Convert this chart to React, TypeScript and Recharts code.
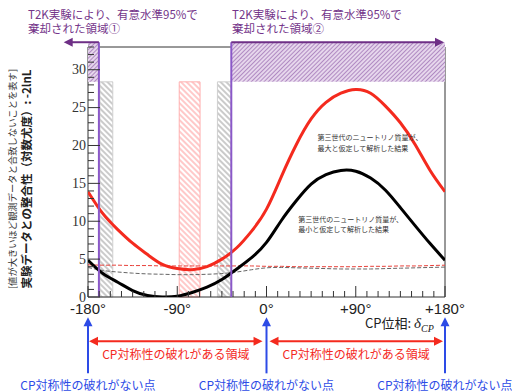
import {
  ComposedChart,
  Line,
  XAxis,
  YAxis,
  ReferenceArea,
  ReferenceLine,
  ReferenceDot,
} from "recharts";

// CP phase (deg) and -2lnL
const deltas = [-180, -165, -150, -135, -120, -105, -90, -75, -60, -45, -30, -15, 0, 15, 30, 45, 60, 75, 90, 105, 120, 135, 150, 165, 180];
const maxMassFit = [13.9, 11.0, 8.9, 7.1, 5.6, 4.3, 3.75, 3.6, 4.0, 5.0, 6.5, 8.7, 11.6, 15.9, 20.1, 23.5, 25.7, 26.9, 27.4, 26.9, 25.2, 23.0, 20.1, 16.7, 13.9];
const minMassFit = [4.85, 3.1, 1.95, 0.85, 0.2, 0.0, 0.1, 0.6, 1.3, 2.3, 3.7, 5.2, 7.2, 10.1, 12.7, 14.9, 16.15, 16.7, 16.6, 15.7, 14.1, 11.8, 9.4, 7.05, 4.85];
const maxMassDashed = [4.25, 4.2, 4.2, 4.15, 4.15, 4.1, 4.1, 4.1, 4.1, 4.1, 4.1, 4.1, 4.05, 4.05, 4.0, 4.0, 4.0, 4.0, 4.0, 4.05, 4.05, 4.1, 4.1, 4.15, 4.2];
const minMassDashed = [3.9, 3.5, 3.3, 3.15, 3.05, 3.0, 2.95, 2.95, 3.0, 3.1, 3.3, 3.6, 3.85, 3.9, 3.85, 3.8, 3.75, 3.7, 3.7, 3.7, 3.75, 3.8, 3.85, 3.9, 3.95];

const xMajor = [-180, -90, 0, 90, 180];
const xMajorLabels = ["-180°", "-90°", "0°", "+90°", "+180°"];
const yMajor = [0, 5, 10, 15, 20, 25, 30];

// rejected regions (T2K 95%) and hatched bands
const rejectedLeft = [-180, -169];
const rejectedRight = [-35.5, 180];
const rejectBandBottom = 28.4;
const rejectBandTop = 33.63;
const grayBands = [
  [-168, -155],
  [-49.5, -35.5],
];
const redBand = [-88, -67];
const cpConserved = [-180, 0, 180];
const cpViolating = [
  [-179, -4],
  [3, 178],
];
const titleLines1 = ["T2K実験により、有意水準95%で", "棄却された領域①"];
const titleLines2 = ["T2K実験により、有意水準95%で", "棄却された領域②"];

const data = deltas.map((d, i) => ({
  d,
  red: maxMassFit[i],
  black: minMassFit[i],
  redDash: maxMassDashed[i],
  grayDash: minMassDashed[i],
}));

const xTicks = Array.from({ length: 33 }, (_, i) => -180 + i * 11.25);
const yTicks = Array.from({ length: 34 }, (_, i) => i);

const JP = "'Noto Sans CJK JP', 'Noto Sans', sans-serif";

const BottomTick = (p: any) => {
  const idx = xMajor.indexOf(p.payload.value);
  return (
    <g>
      <line x1={p.x} x2={p.x} y1={p.y} y2={p.y - (idx >= 0 ? 11 : 6)} stroke="#333" />
      {idx >= 0 && (
        <text x={p.x} y={p.y + 16.5} textAnchor="middle" fontSize={15} fontFamily="'Liberation Sans', Arial, sans-serif" fill="#222">
          {xMajorLabels[idx]}
        </text>
      )}
    </g>
  );
};

const TopTick = (p: any) => {
  const major = xMajor.includes(p.payload.value);
  return <line x1={p.x} x2={p.x} y1={p.y} y2={p.y + (major ? 11 : 6)} stroke="#333" />;
};

const LeftTick = (p: any) => {
  const major = yMajor.includes(p.payload.value);
  return (
    <g>
      <line x1={p.x} x2={p.x + (major ? 12 : 6)} y1={p.y} y2={p.y} stroke="#333" />
      {major && (
        <text x={p.x - 2} y={p.y + 4.5} textAnchor="end" fontSize={14} fontFamily="'Liberation Serif', serif" fill="#333">
          {p.payload.value}
        </text>
      )}
    </g>
  );
};

const RightTick = (p: any) => {
  const major = yMajor.includes(p.payload.value);
  return <line x1={p.x} x2={p.x - (major ? 12 : 6)} y1={p.y} y2={p.y} stroke="#333" />;
};

const YTitle = (p: any) => {
  const vb = p.viewBox;
  const cy = vb.y + vb.height / 2 + 7;
  return (
    <g fontFamily={JP}>
      <text transform={`translate(${vb.x + 8},${cy}) rotate(-90)`} textAnchor="middle" dominantBaseline="central" fontSize={9.3} fill="#333">
        [値が大きいほど観測データと合致しないことを表す]
      </text>
      <text transform={`translate(${vb.x + 22},${cy}) rotate(-90)`} textAnchor="middle" dominantBaseline="central" fontSize={11.5} fontWeight="bold" fill="#222">
        実験データとの整合性（対数尤度）: -2lnL
      </text>
    </g>
  );
};

const XTitle = (p: any) => {
  const vb = p.viewBox;
  return (
    <text x={vb.x + 277} y={vb.y + 31} fontSize={13} fontFamily={JP} fill="#222">
      CP位相:{" "}
      <tspan fontFamily="'Liberation Serif', serif" fontStyle="italic" fontSize={15}>δ</tspan>
      <tspan fontFamily="'Liberation Serif', serif" fontStyle="italic" fontSize={10} dy={4}>CP</tspan>
    </text>
  );
};

const arrow = (color: string, width: number, start: boolean, end: boolean, label?: string, labelDy = 0) => (p: any) => {
  const { x1, y1, x2, y2 } = p;
  const len = Math.hypot(x2 - x1, y2 - y1) || 1;
  const ux = (x2 - x1) / len;
  const uy = (y2 - y1) / len;
  const L = 9;
  const W = 4.5;
  const head = (tx: number, ty: number, dx: number, dy: number) =>
    `${tx},${ty} ${tx - dx * L - dy * W},${ty - dy * L + dx * W} ${tx - dx * L + dy * W},${ty - dy * L - dx * W}`;
  const sx = start ? x1 + ux * L * 0.8 : x1;
  const sy = start ? y1 + uy * L * 0.8 : y1;
  const ex = end ? x2 - ux * L * 0.8 : x2;
  const ey = end ? y2 - uy * L * 0.8 : y2;
  return (
    <g>
      <line x1={sx} y1={sy} x2={ex} y2={ey} stroke={color} strokeWidth={width} />
      {end && <polygon points={head(x2, y2, ux, uy)} fill={color} />}
      {start && <polygon points={head(x1, y1, -ux, -uy)} fill={color} />}
      {label && (
        <text
          x={(x1 + x2) / 2}
          y={Math.max(y1, y2) + labelDy}
          textAnchor="middle"
          dominantBaseline="central"
          fontSize={12}
          fontFamily={JP}
          fill={color}
        >
          {label}
        </text>
      )}
    </g>
  );
};

const note = (lines: string[]) => (p: any) => {
  const vb = p.viewBox;
  return (
    <g>
      {lines.map((t, i) => (
        <text key={t} x={vb.x} y={vb.y + i * 10.5} dominantBaseline="central" fontSize={7} fontFamily={JP} fill="#333">
          {t}
        </text>
      ))}
    </g>
  );
};

const titleStyle: React.CSSProperties = {
  position: "absolute",
  fontSize: 11.5,
  lineHeight: "13px",
  height: 13,
  fontFamily: JP,
  color: "#74358a",
  whiteSpace: "nowrap",
};

const PURPLE_LINE = "#8a58c8";
const PURPLE_DARK = "#6e2f86";
const BLUE = "#2d4be6";
const RED = "#f42a1e";

export default function App() {
  return (
    <div style={{ position: "absolute", left: 0, top: 0, width: 512, height: 392, background: "#fff", overflow: "hidden" }}>
      <ComposedChart
        width={512}
        height={392}
        data={data}
        margin={{ top: 47, right: 67, bottom: 65, left: 4 }}
      >
        <defs>
          <pattern id="hGray" patternUnits="userSpaceOnUse" width="4" height="4" patternTransform="rotate(-45)">
            <rect width="4" height="4" fill="#fff" />
            <line x1="2" y1="0" x2="2" y2="4" stroke="#a0a0a0" strokeWidth="1.1" />
          </pattern>
          <pattern id="hRed" patternUnits="userSpaceOnUse" width="4" height="4" patternTransform="rotate(-45)">
            <rect width="4" height="4" fill="#fff" />
            <line x1="2" y1="0" x2="2" y2="4" stroke="#ff9d9d" strokeWidth="1.1" />
          </pattern>
          <pattern id="hPurple" patternUnits="userSpaceOnUse" width="3" height="3" patternTransform="rotate(45)">
            <rect width="3" height="3" fill="#e6d6ec" />
            <line x1="1.5" y1="0" x2="1.5" y2="3" stroke="#b08ac2" strokeWidth="1" />
          </pattern>
        </defs>

        <XAxis
          type="number"
          dataKey="d"
          domain={[-180, 180]}
          ticks={xTicks}
          interval={0}
          allowDataOverflow
          axisLine={false}
          tickLine={false}
          tickSize={0}
          tickMargin={0}
          height={30}
          tick={(p: any) => <BottomTick {...p} />}
          label={<XTitle />}
        />
        <XAxis
          xAxisId="top"
          orientation="top"
          type="number"
          dataKey="d"
          domain={[-180, 180]}
          ticks={xTicks}
          interval={0}
          axisLine={false}
          tickLine={false}
          tickSize={0}
          tickMargin={0}
          height={0}
          tick={(p: any) => <TopTick {...p} />}
        />
        <YAxis
          type="number"
          domain={[0, 33]}
          ticks={yTicks}
          interval={0}
          allowDataOverflow
          axisLine={false}
          tickLine={false}
          tickSize={0}
          tickMargin={0}
          width={84}
          tick={(p: any) => <LeftTick {...p} />}
          label={<YTitle />}
        />
        <YAxis
          yAxisId="r"
          orientation="right"
          type="number"
          domain={[0, 33]}
          ticks={yTicks}
          interval={0}
          axisLine={false}
          tickLine={false}
          tickSize={0}
          tickMargin={0}
          width={0}
          tick={(p: any) => <RightTick {...p} />}
        />

        {grayBands.map(([a, b]) => (
          <ReferenceArea key={a} x1={a} x2={b} y1={0} y2={rejectBandBottom} fill="url(#hGray)" fillOpacity={1} stroke="#cfcfcf" strokeWidth={1} />
        ))}
        <ReferenceArea x1={redBand[0]} x2={redBand[1]} y1={0} y2={rejectBandBottom} fill="url(#hRed)" fillOpacity={1} stroke="#ffb0b0" strokeWidth={1} />
        <ReferenceArea x1={-180} x2={180} y1={0} y2={33} fill="none" stroke="#333" strokeWidth={1} />

        <Line type="natural" dataKey="redDash" stroke="#e8413a" strokeWidth={1} strokeDasharray="4 2" dot={false} isAnimationActive={false} />
        <Line type="natural" dataKey="grayDash" stroke="#666" strokeWidth={1} strokeDasharray="4 2" dot={false} isAnimationActive={false} />
        <Line type="natural" dataKey="red" stroke={RED} strokeWidth={3} dot={false} isAnimationActive={false} />
        <Line type="natural" dataKey="black" stroke="#000" strokeWidth={3} dot={false} isAnimationActive={false} />

        <ReferenceArea x1={rejectedLeft[0]} x2={rejectedLeft[1]} y1={rejectBandBottom} y2={rejectBandTop} ifOverflow="visible" fill="url(#hPurple)" fillOpacity={1} stroke="none" />
        <ReferenceArea x1={rejectedRight[0]} x2={rejectedRight[1]} y1={rejectBandBottom} y2={rejectBandTop} ifOverflow="visible" fill="url(#hPurple)" fillOpacity={1} stroke="none" />
        <ReferenceLine segment={[{ x: rejectedLeft[1], y: 0 }, { x: rejectedLeft[1], y: rejectBandTop }]} ifOverflow="visible" stroke={PURPLE_LINE} strokeWidth={2} />
        <ReferenceLine segment={[{ x: rejectedRight[0], y: 0 }, { x: rejectedRight[0], y: rejectBandTop }]} ifOverflow="visible" stroke={PURPLE_LINE} strokeWidth={2} />
        <ReferenceLine
          segment={[{ x: rejectedLeft[1], y: rejectBandTop }, { x: -204.5, y: rejectBandTop }]}
          ifOverflow="visible"
          shape={arrow(PURPLE_DARK, 2, false, true)}
        />
        <ReferenceLine
          segment={[{ x: rejectedRight[0], y: rejectBandTop }, { x: rejectedRight[1] - 1, y: rejectBandTop }]}
          ifOverflow="visible"
          shape={arrow(PURPLE_DARK, 2, false, true)}
        />

        <ReferenceDot x={51.5} y={21.1} r={0} ifOverflow="visible" label={note(["第三世代のニュートリノ質量が、", "最大と仮定して解析した結果"])} />
        <ReferenceDot x={32} y={10.3} r={0} ifOverflow="visible" label={note(["第三世代のニュートリノ質量が、", "最小と仮定して解析した結果"])} />

        {cpConserved.map((c) => (
          <ReferenceLine
            key={c}
            segment={[{ x: c, y: -10.08 }, { x: c, y: -2.68 }]}
            ifOverflow="visible"
            shape={arrow(BLUE, 2, false, true, "CP対称性の破れがない点", 11)}
          />
        ))}
        {cpViolating.map(([a, b]) => (
          <ReferenceLine
            key={a}
            segment={[{ x: a, y: -5.85 }, { x: b, y: -5.85 }]}
            ifOverflow="visible"
            shape={arrow(RED, 2, true, true, "CP対称性の破れがある領域", 12)}
          />
        ))}
      </ComposedChart>
      {titleLines1.map((t, i) => (
        <div key={t} style={{ ...titleStyle, left: 28, top: 8 + i * 14 }}>
          {t}
        </div>
      ))}
      {titleLines2.map((t, i) => (
        <div key={t} style={{ ...titleStyle, left: 232, top: 8 + i * 14 }}>
          {t}
        </div>
      ))}
    </div>
  );
}
